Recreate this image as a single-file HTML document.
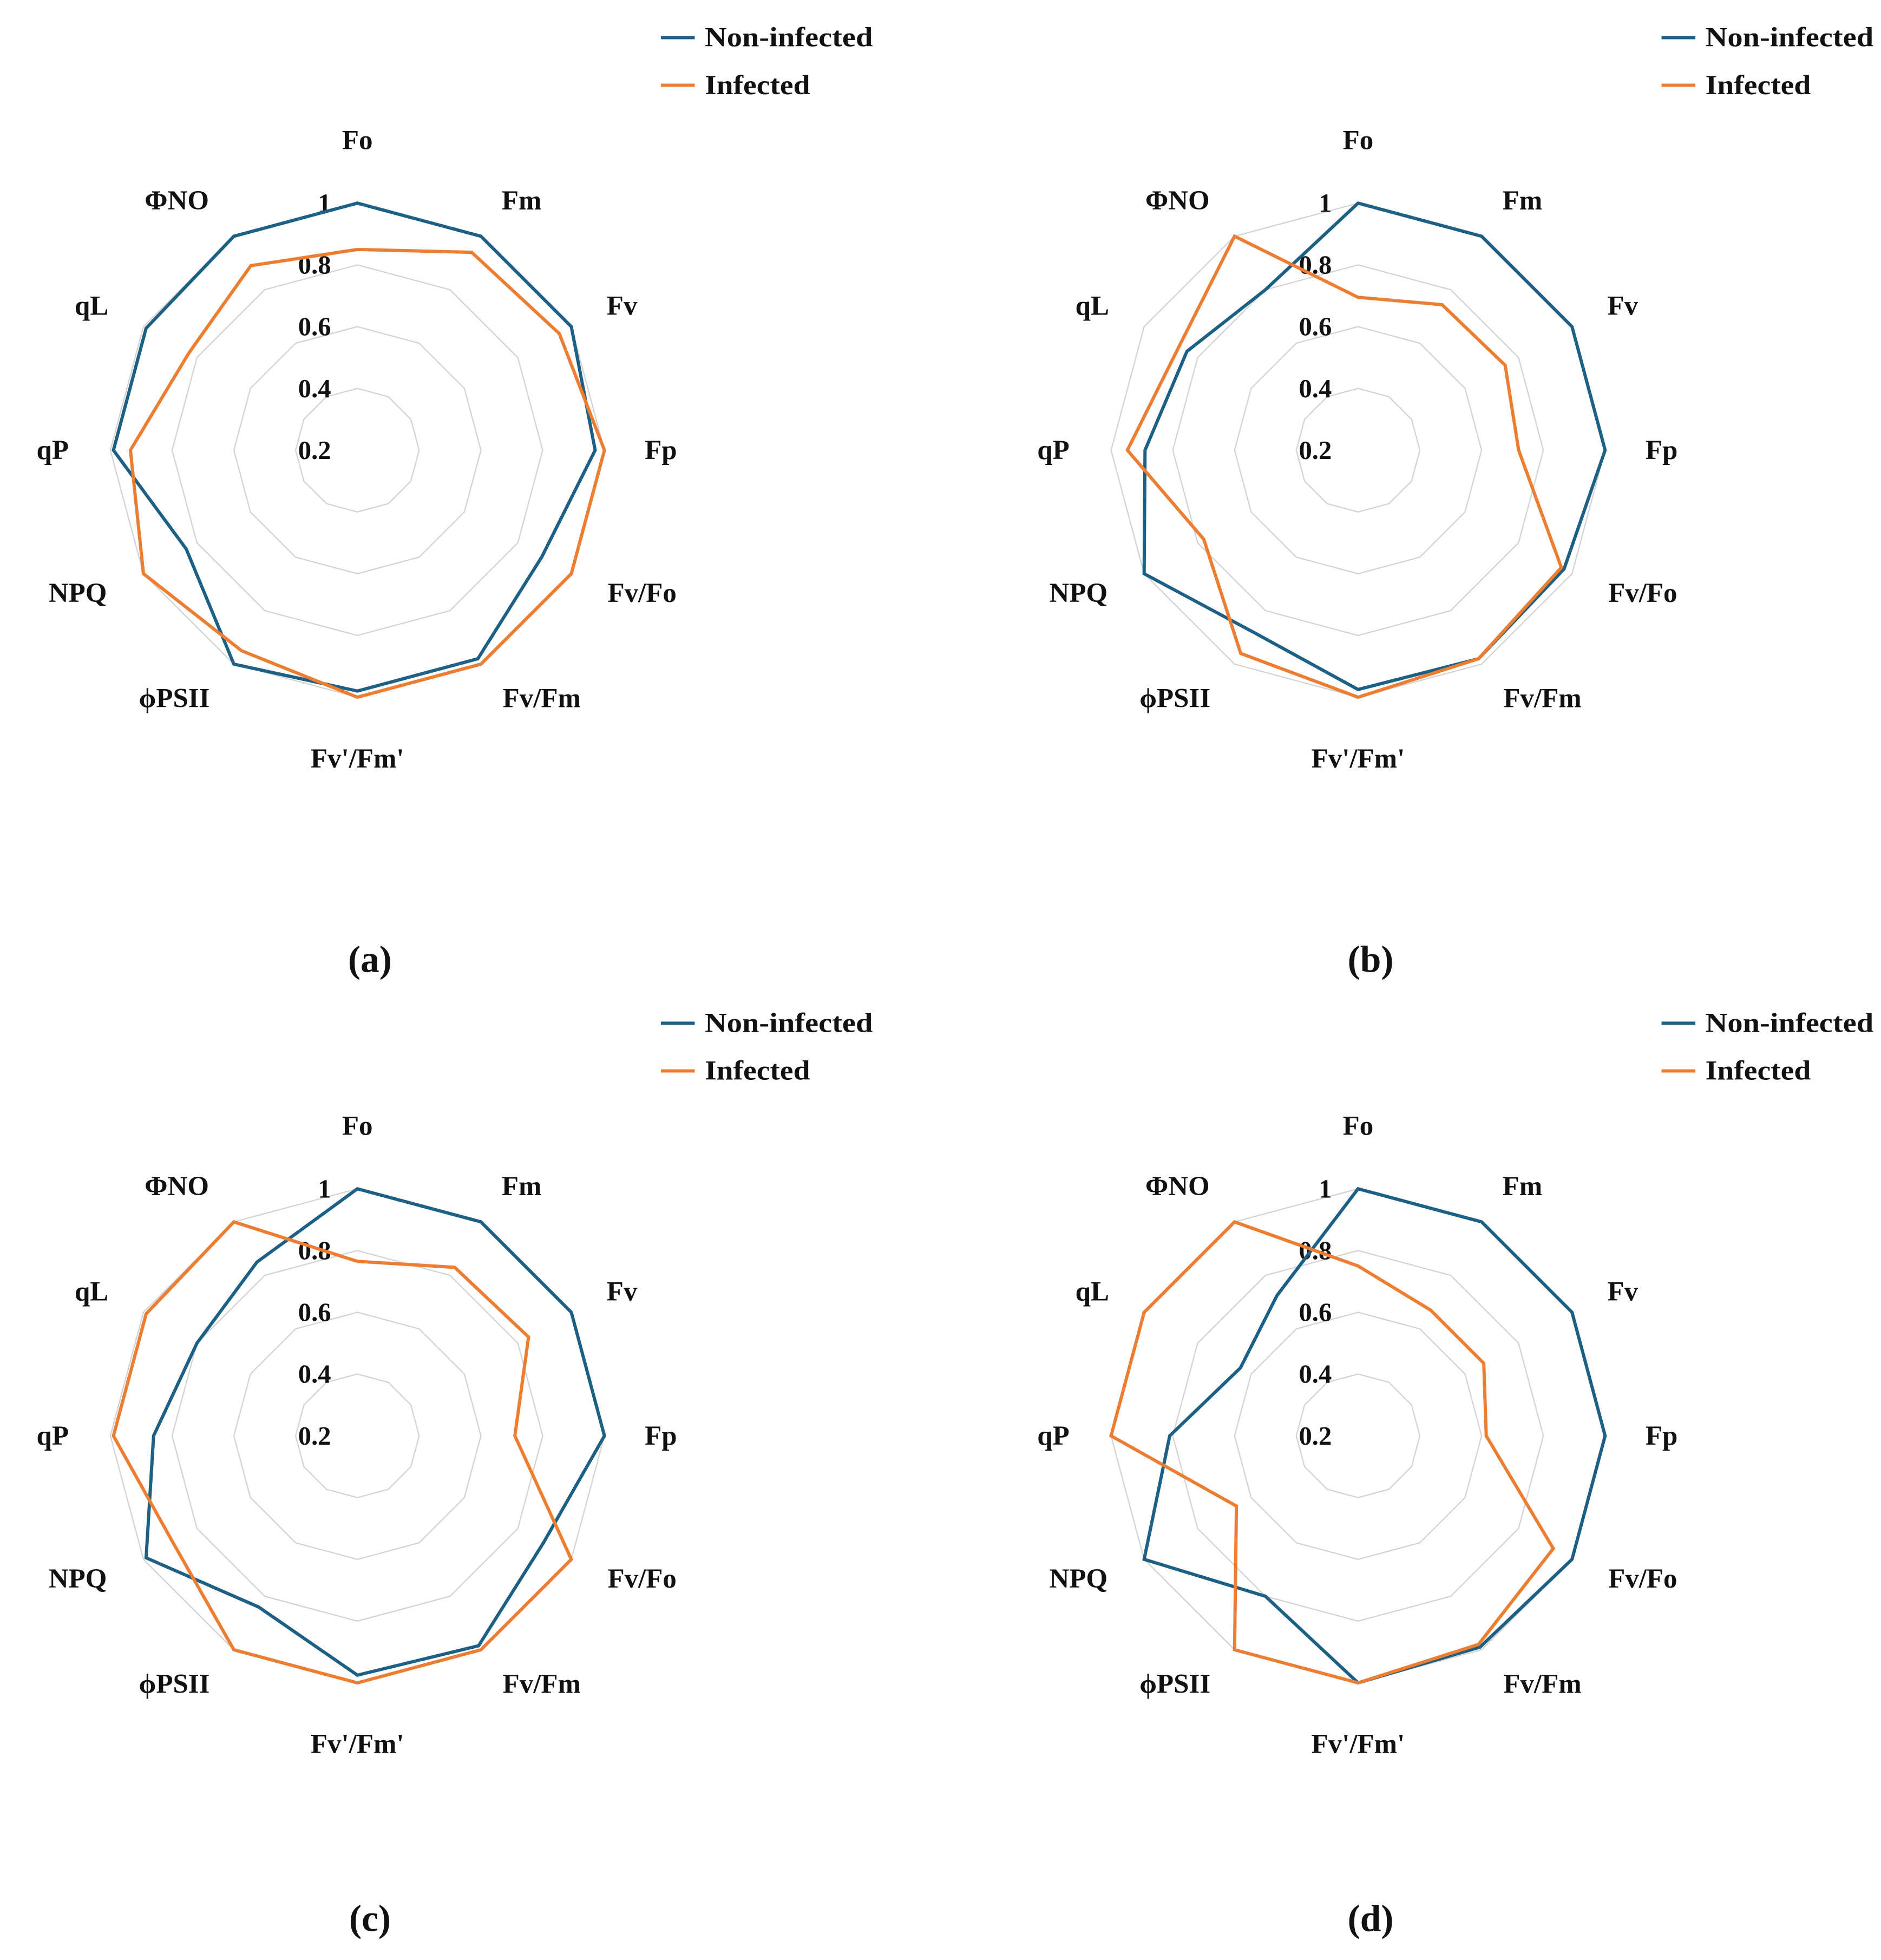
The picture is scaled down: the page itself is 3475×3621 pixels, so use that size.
<!DOCTYPE html>
<html><head><meta charset="utf-8"><style>
html,body{margin:0;padding:0;background:#fff;}
svg{display:block;}
text{font-family:"Liberation Serif",serif;font-weight:bold;fill:#111;}
</style></head><body>
<svg id="chart" width="3475" height="3621" viewBox="0 0 1500 1563" preserveAspectRatio="none" xmlns="http://www.w3.org/2000/svg"></svg>
<script>
const axesLabels = ["Fo","Fm","Fv","Fp","Fv/Fo","Fv/Fm","Fv'/Fm'","\u03D5PSII","NPQ","qP","qL","\u03A6NO"];
const ticks = [0.2,0.4,0.6,0.8,1];
const panelIds = ["a","b","c","d"];
const nonInfA = [1,1,1,0.97,0.89,0.98,0.98,1,0.84,0.99,0.99,1];
const infA    = [0.85,0.94,0.955,1,1,1,1,0.95,1,0.935,0.83,0.89];
const nonInfB = [1,1,1,1,0.97,0.98,0.975,0.88,1,0.89,0.84,0.8];
const infB    = [0.695,0.744,0.75,0.72,0.96,0.98,1,0.96,0.777,0.947,0.87,1];
const nonInfC = [1,1,1,1,0.895,0.985,0.975,0.84,0.99,0.86,0.8,0.85];
const infC    = [0.765,0.83,0.84,0.71,1,1,1,1,0.89,0.99,0.99,1];
const nonInfD = [1,1,1,1,1,0.99,1,0.8,1,0.81,0.64,0.725];
const infD    = [0.75,0.67,0.67,0.615,0.93,0.98,1,1,0.655,1,1,1];
const seriesNon = [nonInfA,nonInfB,nonInfC,nonInfD];
const seriesInf = [infA,infB,infC,infD];

// layout: label centre offsets relative to panel origin
const labelPos = [[285,112],[416,160],[496,244],[527,359],[512,473],[432,557],[285,605],[139,557],[62,473],[42,359],[73,244],[141,160]];

const NS="http://www.w3.org/2000/svg";
const svg=document.getElementById('chart');
const R=197, VMIN=0.2, VMAX=1;
function rad(v){return (v-VMIN)/(VMAX-VMIN)*R;}
function pt(cx,cy,i,r){const a=i/axesLabels.length*2*Math.PI;return [cx+r*Math.sin(a),cy-r*Math.cos(a)];}
function mk(tag,attrs,parent){const e=document.createElementNS(NS,tag);for(const k in attrs)e.setAttribute(k,attrs[k]);(parent||svg).appendChild(e);return e;}

const origins=[[0,0],[798,0],[0,786],[798,786]];
const capY=[775,775,1540,1540];
panelIds.forEach((pid,p)=>{
  const ox=origins[p][0], oy=origins[p][1];
  const cx=285+ox, cy=359+oy;
  const g=mk('g',{});
  
  
  ticks.forEach(t=>{
    if(t<=VMIN) return;
    const pts=axesLabels.map((_,i)=>pt(cx,cy,i,rad(t)).join(',')).join(' ');
    const ring=mk('polygon',{points:pts,fill:'none',stroke:'#d3d3d3','stroke-width':1},g);
    
    
  });
  ticks.forEach(t=>{
    const tl=mk('text',{x:cx-21,y:cy-rad(t)+7,'font-size':21,'text-anchor':'end'},g);
    tl.textContent=String(t);
    
    
  });
  axesLabels.forEach((lab,i)=>{
    const t=mk('text',{x:labelPos[i][0]+ox,y:labelPos[i][1]+oy+7,'font-size':22,'text-anchor':'middle'},g);
    t.textContent=lab;
    
    
  });
  [[seriesNon[p],'#1d6086','non-infected-series'],[seriesInf[p],'#ed7d31','infected-series']].forEach(([vals,col,name])=>{
    const pts=vals.map((v,i)=>pt(cx,cy,i,rad(v)).join(',')).join(' ');
    const pl=mk('polygon',{points:pts,fill:'none',stroke:col,'stroke-width':2.6,'stroke-linejoin':'miter'},g);
    
    
  });
  [['Non-infected','#1d6086',30,134],['Infected','#ed7d31',68,84]].forEach(([lab,col,ly,tw])=>{
    const le=mk('g',{},g);
    
    
    mk('line',{x1:527+ox,x2:554+ox,y1:ly+oy,y2:ly+oy,stroke:col,'stroke-width':2.6},le);
    const t=mk('text',{x:562+ox,y:ly+oy+7,'font-size':22,textLength:tw,lengthAdjust:'spacingAndGlyphs'},le);
    t.textContent=lab;
  });
  const cap=mk('text',{x:295+ox,y:capY[p],'font-size':30,'text-anchor':'middle','font-weight':'normal'},g);
  cap.innerHTML='(<tspan font-weight="bold">'+pid+'</tspan>)';
  
  
});
</script>
</body></html>
